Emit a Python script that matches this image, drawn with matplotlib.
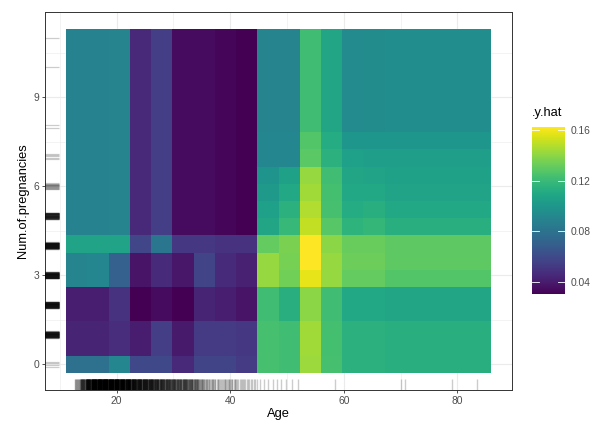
import numpy as np
import matplotlib as mpl
import matplotlib.pyplot as plt

plt.rcParams['font.family'] = ['Liberation Sans', 'DejaVu Sans']

# grid of the partial dependence (tile centres)
age_grid = [13.00, 16.74, 20.47, 24.21, 27.95, 31.68, 35.42, 39.16, 42.89, 46.63,
            50.37, 54.11, 57.84, 61.58, 65.32, 69.05, 72.79, 76.53, 80.26, 84.00]
preg_grid = [0.00, 0.58, 1.16, 1.74, 2.32, 2.89, 3.47, 4.05, 4.63, 5.21,
             5.79, 6.37, 6.95, 7.53, 8.11, 8.68, 9.26, 9.84, 10.42, 11.00]

# predicted .y.hat, one row per preg_grid value (bottom to top), one column per age_grid value
yhat = [
    [0.079, 0.079, 0.091, 0.059, 0.059, 0.045, 0.057, 0.057, 0.053, 0.124, 0.122, 0.143, 0.124, 0.115, 0.115, 0.114, 0.114, 0.114, 0.114, 0.114],
    [0.043, 0.043, 0.047, 0.040, 0.054, 0.039, 0.053, 0.053, 0.051, 0.124, 0.122, 0.144, 0.123, 0.115, 0.115, 0.114, 0.114, 0.114, 0.114, 0.114],
    [0.043, 0.043, 0.047, 0.040, 0.054, 0.039, 0.053, 0.053, 0.051, 0.124, 0.122, 0.144, 0.123, 0.115, 0.115, 0.114, 0.114, 0.114, 0.114, 0.114],
    [0.041, 0.041, 0.049, 0.030, 0.034, 0.030, 0.043, 0.041, 0.037, 0.122, 0.114, 0.140, 0.122, 0.110, 0.110, 0.108, 0.108, 0.108, 0.108, 0.108],
    [0.041, 0.041, 0.049, 0.030, 0.034, 0.030, 0.043, 0.041, 0.037, 0.122, 0.114, 0.140, 0.122, 0.110, 0.110, 0.108, 0.108, 0.108, 0.108, 0.108],
    [0.090, 0.091, 0.071, 0.037, 0.046, 0.038, 0.057, 0.046, 0.042, 0.142, 0.134, 0.158, 0.142, 0.131, 0.131, 0.127, 0.127, 0.127, 0.127, 0.127],
    [0.090, 0.091, 0.071, 0.037, 0.046, 0.038, 0.057, 0.046, 0.042, 0.142, 0.135, 0.163, 0.142, 0.133, 0.133, 0.130, 0.130, 0.130, 0.130, 0.130],
    [0.107, 0.107, 0.107, 0.058, 0.082, 0.051, 0.051, 0.049, 0.049, 0.131, 0.136, 0.163, 0.140, 0.132, 0.132, 0.130, 0.130, 0.130, 0.130, 0.130],
    [0.089, 0.089, 0.090, 0.045, 0.054, 0.034, 0.034, 0.032, 0.030, 0.108, 0.119, 0.151, 0.128, 0.116, 0.118, 0.114, 0.114, 0.114, 0.114, 0.114],
    [0.089, 0.089, 0.090, 0.045, 0.054, 0.034, 0.034, 0.032, 0.030, 0.105, 0.115, 0.147, 0.124, 0.112, 0.114, 0.110, 0.110, 0.110, 0.110, 0.110],
    [0.089, 0.089, 0.090, 0.045, 0.054, 0.034, 0.034, 0.032, 0.030, 0.102, 0.110, 0.144, 0.123, 0.110, 0.110, 0.107, 0.107, 0.107, 0.107, 0.107],
    [0.089, 0.089, 0.090, 0.045, 0.054, 0.034, 0.034, 0.032, 0.030, 0.099, 0.106, 0.142, 0.122, 0.108, 0.107, 0.106, 0.106, 0.106, 0.106, 0.106],
    [0.089, 0.089, 0.090, 0.045, 0.054, 0.034, 0.034, 0.032, 0.030, 0.091, 0.091, 0.129, 0.115, 0.105, 0.104, 0.104, 0.104, 0.104, 0.104, 0.104],
    [0.089, 0.089, 0.090, 0.045, 0.054, 0.034, 0.034, 0.032, 0.030, 0.091, 0.091, 0.127, 0.112, 0.100, 0.100, 0.100, 0.100, 0.100, 0.100, 0.100],
    [0.089, 0.089, 0.090, 0.045, 0.054, 0.034, 0.034, 0.032, 0.030, 0.090, 0.090, 0.122, 0.108, 0.093, 0.094, 0.095, 0.095, 0.095, 0.095, 0.095],
    [0.089, 0.089, 0.090, 0.045, 0.054, 0.034, 0.034, 0.032, 0.030, 0.090, 0.090, 0.122, 0.108, 0.093, 0.094, 0.095, 0.095, 0.095, 0.095, 0.095],
    [0.089, 0.089, 0.090, 0.045, 0.054, 0.034, 0.034, 0.032, 0.030, 0.090, 0.090, 0.122, 0.108, 0.093, 0.094, 0.095, 0.095, 0.095, 0.095, 0.095],
    [0.089, 0.089, 0.090, 0.045, 0.054, 0.034, 0.034, 0.032, 0.030, 0.090, 0.090, 0.122, 0.108, 0.093, 0.094, 0.095, 0.095, 0.095, 0.095, 0.095],
    [0.089, 0.089, 0.090, 0.045, 0.054, 0.034, 0.034, 0.032, 0.030, 0.090, 0.090, 0.122, 0.108, 0.093, 0.094, 0.095, 0.095, 0.095, 0.095, 0.095],
    [0.089, 0.089, 0.090, 0.045, 0.054, 0.034, 0.034, 0.032, 0.030, 0.090, 0.090, 0.122, 0.108, 0.093, 0.094, 0.095, 0.095, 0.095, 0.095, 0.095],
]

# rug data: number of observations per integer value
rug_ages = [13, 14, 15, 16, 17, 18, 19, 20, 21, 22, 23, 24, 25, 26, 27, 28, 29,
            30, 31, 32, 33, 34, 35, 36, 37, 38, 39, 40, 41, 42, 43, 44, 45]
rug_age_counts = [10, 30, 50, 65, 70, 70, 65, 65, 60, 55, 50, 45, 42, 40, 35, 32, 30,
                  28, 25, 25, 22, 18, 12, 9, 8, 6, 7, 7, 6, 5, 4, 4, 2]
rug_ages_sparse = [45.9, 46.6, 47.5, 48.2, 49.0, 49.9, 50.8, 51.9, 58.4, 70.1, 70.8, 79.0, 83.5]
rug_preg = [0, 1, 2, 3, 4, 5, 6, 7, 8, 10, 11]
rug_preg_counts = [4, 60, 60, 60, 60, 50, 14, 5, 2, 1, 1]


def edges(c):
    c = np.asarray(c, dtype=float)
    mid = (c[1:] + c[:-1]) / 2
    return np.r_[c[0] - (c[1] - c[0]) / 2, mid, c[-1] + (c[-1] - c[-2]) / 2]


def spread(vals, counts, width):
    # stand-in for the jitter ggplot applies to the rug
    out = []
    for v, n in zip(vals, counts):
        out.extend(v + ((np.arange(n) + 0.5) / n - 0.5) * width)
    return np.array(out)


W, H = 613, 438
fig = plt.figure(figsize=(W / 100, H / 100), dpi=100)
ax = fig.add_axes([45 / W, (H - 390) / H, 467 / W, 378 / H])

Z = np.array(yhat)
xe, ye = edges(age_grid), edges(preg_grid)
mesh = ax.pcolormesh(xe, ye, Z, cmap="viridis", vmin=Z.min(), vmax=Z.max(),
                     shading="flat", zorder=2, antialiased=False, linewidth=0)

# ggplot-like 5% expansion
xr, yr = xe[-1] - xe[0], ye[-1] - ye[0]
ax.set_xlim(xe[0] - 0.05 * xr, xe[-1] + 0.05 * xr)
ax.set_ylim(ye[0] - 0.05 * yr, ye[-1] + 0.05 * yr)

# rugs
xs = np.r_[spread(rug_ages, rug_age_counts, 0.9), rug_ages_sparse]
ax.vlines(xs, 0, 0.03, transform=ax.get_xaxis_transform(), color="black",
          alpha=0.2, linewidth=1.0, zorder=3)
ys = spread(rug_preg, rug_preg_counts, 0.22)
ax.hlines(ys, 0, 0.03, transform=ax.get_yaxis_transform(), color="black",
          alpha=0.2, linewidth=0.9, zorder=3)

# theme_bw look
ax.set_xticks([20, 40, 60, 80])
ax.set_xticks([10, 30, 50, 70], minor=True)
ax.set_yticks([0, 3, 6, 9])
ax.set_yticks([1.5, 4.5, 7.5, 10.5], minor=True)
ax.grid(which="major", color="#ebebeb", linewidth=0.8, zorder=0)
ax.grid(which="minor", color="#ebebeb", linewidth=0.4, zorder=0)
ax.set_axisbelow(True)
ax.tick_params(which="major", length=2.3, width=0.6, color="#333333",
               labelsize=7.4, labelcolor="#4d4d4d", pad=1.8)
ax.tick_params(which="minor", length=0)
for s in ax.spines.values():
    s.set_color("#333333")
    s.set_linewidth(0.7)
ax.set_xlabel("Age", fontsize=9.3, labelpad=2)
ax.set_ylabel("Num.of.pregnancies", fontsize=9.3, labelpad=3)

# colour bar
cax = fig.add_axes([532 / W, (H - 294.3) / H, 33 / W, 167.6 / H])
cb = fig.colorbar(mesh, cax=cax, ticks=[0.04, 0.08, 0.12, 0.16])
cb.outline.set_visible(False)
cb.ax.set_yticklabels(["0.04", "0.08", "0.12", "0.16"])
cax.tick_params(length=0, labelsize=7.4, labelcolor="#4d4d4d", pad=4)
for t in [0.04, 0.08, 0.12, 0.16]:
    cax.plot([0, 0.2], [t, t], color="white", linewidth=0.6, transform=cax.get_yaxis_transform())
    cax.plot([0.8, 1], [t, t], color="white", linewidth=0.6, transform=cax.get_yaxis_transform())
fig.text(532 / W, (H - 113) / H, ".y.hat", fontsize=9.3, ha="left", va="center")

fig.savefig("out.png", dpi=100)
